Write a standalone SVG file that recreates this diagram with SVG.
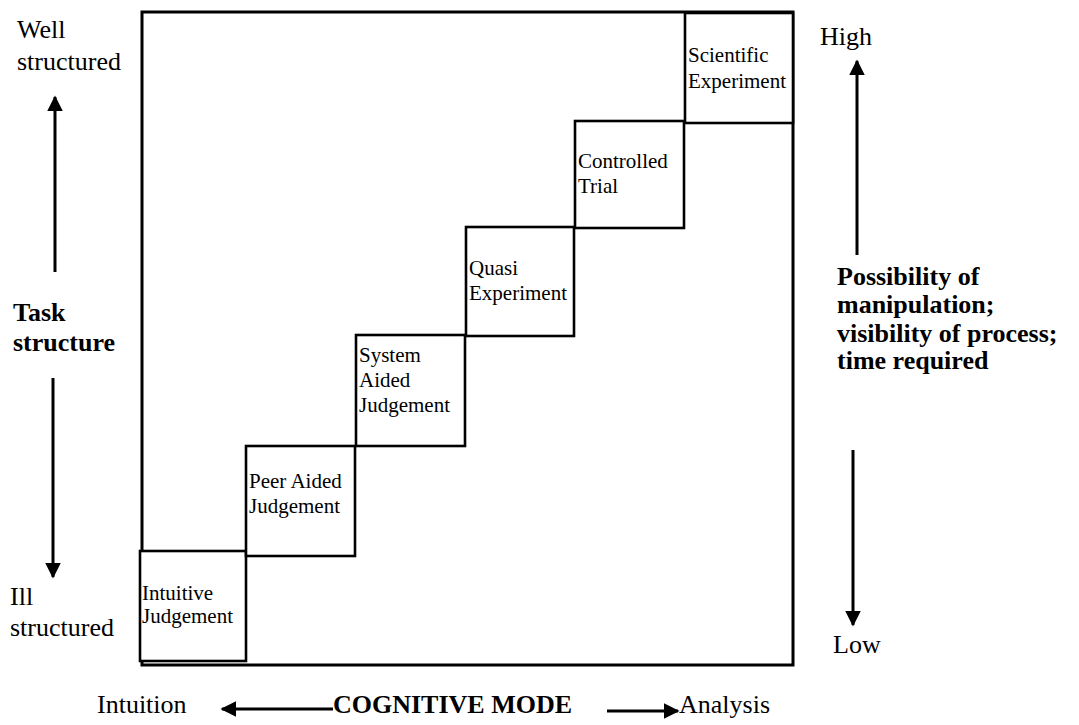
<svg xmlns="http://www.w3.org/2000/svg" width="1079" height="725" viewBox="0 0 1079 725">
  <style>
    .frame { fill: none; stroke: #000; stroke-width: 3; }
    .box { fill: #fff; stroke: #000; stroke-width: 2.6; }
    .lbl { font-family: "Liberation Serif", "Times New Roman", serif; font-size: 21px; fill: #000; }
    .axis { font-family: "Liberation Serif", "Times New Roman", serif; font-size: 26px; fill: #000; }
    .axisb { font-family: "Liberation Serif", "Times New Roman", serif; font-size: 26px; font-weight: bold; fill: #000; }
    .conn { fill: none; stroke: #000; stroke-width: 3; }
  </style>
  <defs>
    <marker id="head" viewBox="0 0 10 10" refX="9" refY="5" markerWidth="5.2" markerHeight="5.2" orient="auto" markerUnits="strokeWidth">
      <path d="M0,0 L10,5 L0,10 Z" fill="#000"/>
    </marker>
  </defs>
  <rect width="1079" height="725" fill="#fff"/>

  <!-- outer frame -->
  <rect id="frame" class="frame" x="142" y="12" width="651" height="653"/>

  <!-- staircase of judgement / experiment modes -->
  <g id="intuitive-judgement">
    <rect class="box" x="140" y="551" width="106" height="110"/>
    <text class="lbl" x="142" y="600">Intuitive</text>
    <text class="lbl" x="142" y="623">Judgement</text>
  </g>
  <g id="peer-aided-judgement">
    <rect class="box" x="246" y="446" width="109" height="110"/>
    <text class="lbl" x="249" y="488">Peer Aided</text>
    <text class="lbl" x="249" y="513">Judgement</text>
  </g>
  <g id="system-aided-judgement">
    <rect class="box" x="356" y="335" width="109" height="111"/>
    <text class="lbl" x="359" y="362">System</text>
    <text class="lbl" x="359" y="387">Aided</text>
    <text class="lbl" x="359" y="412">Judgement</text>
  </g>
  <g id="quasi-experiment">
    <rect class="box" x="466" y="227" width="108" height="109"/>
    <text class="lbl" x="469" y="275">Quasi</text>
    <text class="lbl" x="469" y="300">Experiment</text>
  </g>
  <g id="controlled-trial">
    <rect class="box" x="575" y="121" width="109" height="107"/>
    <text class="lbl" x="578" y="168">Controlled</text>
    <text class="lbl" x="578" y="193">Trial</text>
  </g>
  <g id="scientific-experiment">
    <rect class="box" x="685" y="13" width="108" height="110"/>
    <text class="lbl" x="688" y="62">Scientific</text>
    <text class="lbl" x="688" y="88">Experiment</text>
  </g>

  <!-- axis arrows -->
  <g id="connectors">
    <line class="conn" x1="55" y1="272" x2="55" y2="97" marker-end="url(#head)"/>
    <line class="conn" x1="53" y1="378" x2="53" y2="577" marker-end="url(#head)"/>
    <line class="conn" x1="857" y1="255" x2="857" y2="61" marker-end="url(#head)"/>
    <line class="conn" x1="853" y1="450" x2="853" y2="625" marker-end="url(#head)"/>
    <line class="conn" x1="333" y1="709" x2="222" y2="709" marker-end="url(#head)"/>
    <line class="conn" x1="607" y1="711" x2="678" y2="711" marker-end="url(#head)"/>
  </g>

  <!-- axis labels -->
  <g id="task-structure-axis">
    <text class="axis" x="17" y="38">Well</text>
    <text class="axis" x="17" y="70">structured</text>
    <text class="axisb" x="13" y="321">Task</text>
    <text class="axisb" x="13" y="351">structure</text>
    <text class="axis" x="10" y="605">Ill</text>
    <text class="axis" x="10" y="636">structured</text>
  </g>
  <g id="manipulation-axis">
    <text class="axis" x="820" y="45">High</text>
    <text class="axisb" x="837" y="285">Possibility of</text>
    <text class="axisb" x="837" y="313">manipulation;</text>
    <text class="axisb" x="837" y="342">visibility of process;</text>
    <text class="axisb" x="837" y="369">time required</text>
    <text class="axis" x="833" y="653">Low</text>
  </g>
  <g id="cognitive-mode-axis">
    <text class="axis" x="97" y="713">Intuition</text>
    <text class="axisb" x="333" y="713">COGNITIVE MODE</text>
    <text class="axis" x="679" y="713">Analysis</text>
  </g>
</svg>
